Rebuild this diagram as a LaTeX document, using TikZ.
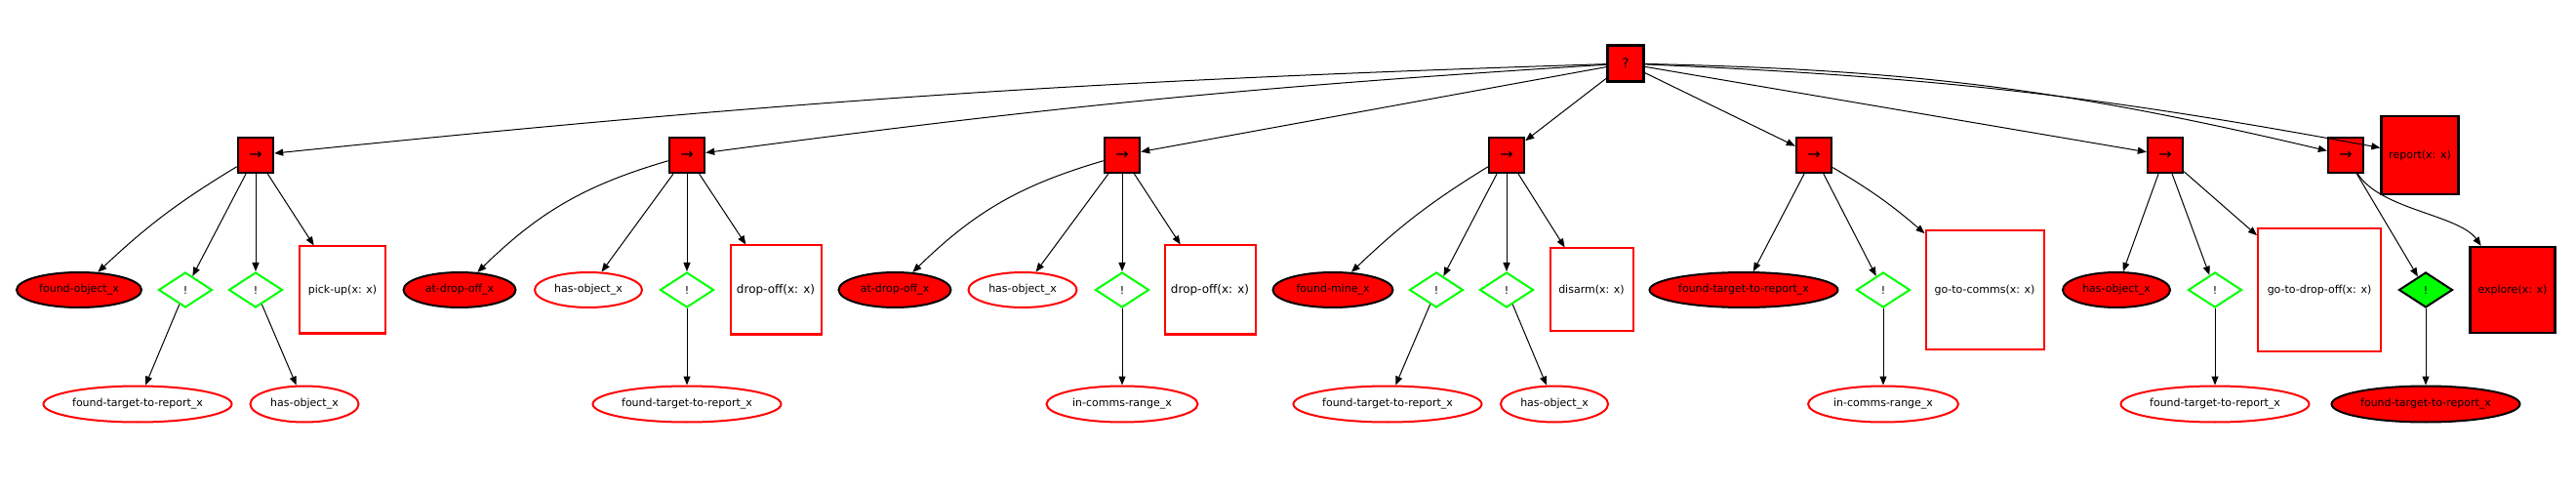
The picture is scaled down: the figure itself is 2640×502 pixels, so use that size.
\documentclass[tikz,border=0pt]{standalone}
\usepackage{fontspec}
\setmainfont{DejaVu Sans}
\usetikzlibrary{shapes.geometric,arrows.meta}

\tikzset{
  link/.style={line width=0.5pt,-{Triangle[length=4.5pt,width=3.5pt]}},
  seqbox/.style={draw=black,fill=red,line width=1.2pt,minimum size=18pt,inner sep=0pt,font=\fontsize{8}{9}\selectfont},
  condfill/.style={ellipse,draw=black,fill=red,line width=1pt,minimum height=18pt,inner sep=0pt},
  condline/.style={ellipse,draw=red,fill=white,line width=1pt,minimum height=18pt,inner sep=0pt},
  notline/.style={diamond,draw=green,line width=1pt,minimum width=27.5pt,minimum height=18pt,inner sep=0pt},
  notfill/.style={notline,draw=black,fill=green},
  actline/.style={draw=red,line width=1pt,inner sep=0pt},
  actfill/.style={draw=black,fill=red,line width=1.2pt,inner sep=0pt}
}

\begin{document}
\begin{tikzpicture}[x=0.5pt,y=0.5pt,font=\fontsize{5.5}{6.5}\selectfont]
  \useasboundingbox (0,0) rectangle (2640,-502);

  \node[seqbox,font=\fontsize{6.5}{7.5}\selectfont,minimum size=18.5pt] (root) at (1666,-65) {?};

  \node[seqbox] (s1) at (262,-159) {→};
  \node[seqbox] (s2) at (704,-159) {→};
  \node[seqbox] (s3) at (1150,-159) {→};
  \node[seqbox] (s4) at (1544,-159) {→};
  \node[seqbox] (s5) at (1859,-159) {→};
  \node[seqbox] (s6) at (2219,-159) {→};
  \node[seqbox] (s7) at (2404,-159) {→};
  \node[actfill,minimum width=39.5pt,minimum height=40pt] (report) at (2480,-159) {report(x: x)};

  \node[condfill,minimum width=64pt] (fo1) at (81,-297) {found-object\_x};
  \node[notline] (n1a) at (190,-297) {!};
  \node[notline] (n1b) at (262,-297) {!};
  \node[actline,minimum width=44pt,minimum height=44.5pt] (pickup) at (351,-297) {pick-up(x: x)};
  \node[condline,minimum width=96.5pt,minimum height=18.5pt] (ft1) at (141,-414) {found-target-to-report\_x};
  \node[condline,minimum width=55.5pt,minimum height=18.5pt] (ho1) at (312,-414) {has-object\_x};

  \node[condfill,minimum width=57.5pt] (adr2) at (471,-297) {at-drop-off\_x};
  \node[condline,minimum width=55pt] (ho2) at (603,-297) {has-object\_x};
  \node[notline] (n2) at (704,-297) {!};
  \node[actline,minimum width=46.5pt,minimum height=45.5pt,font=\fontsize{6}{7}\selectfont] (drop2) at (795,-297) {drop-off(x: x)};
  \node[condline,minimum width=96.5pt,minimum height=18.5pt] (ft2) at (704,-414) {found-target-to-report\_x};

  \node[condfill,minimum width=57.5pt] (adr3) at (917,-297) {at-drop-off\_x};
  \node[condline,minimum width=55.5pt] (ho3) at (1048,-297) {has-object\_x};
  \node[notline] (n3) at (1150,-297) {!};
  \node[actline,minimum width=46.5pt,minimum height=45.5pt,font=\fontsize{6}{7}\selectfont] (drop3) at (1240,-297) {drop-off(x: x)};
  \node[condline,minimum width=77.5pt,minimum height=18.5pt] (icr3) at (1150,-414) {in-comms-range\_x};

  \node[condfill,minimum width=61.5pt] (fm4) at (1366,-297) {found-mine\_x};
  \node[notline] (n4a) at (1472,-297) {!};
  \node[notline] (n4b) at (1544,-297) {!};
  \node[actline,minimum width=42.5pt,minimum height=42.5pt] (disarm) at (1631,-297) {disarm(x: x)};
  \node[condline,minimum width=96.5pt,minimum height=18.5pt] (ft4) at (1422,-414) {found-target-to-report\_x};
  \node[condline,minimum width=55pt,minimum height=18.5pt] (ho4) at (1593,-414) {has-object\_x};

  \node[condfill,minimum width=96.5pt] (ft5) at (1787,-297) {found-target-to-report\_x};
  \node[notline] (n5) at (1930,-297) {!};
  \node[actline,minimum width=60.5pt,minimum height=60.5pt] (gtc) at (2034,-297) {go-to-comms(x: x)};
  \node[condline,minimum width=77pt,minimum height=18.5pt] (icr5) at (1930,-414) {in-comms-range\_x};

  \node[condfill,minimum width=55pt] (ho6) at (2169,-297) {has-object\_x};
  \node[notline] (n6) at (2270,-297) {!};
  \node[actline,minimum width=63pt,minimum height=62.5pt] (gtd) at (2377,-297) {go-to-drop-off(x: x)};
  \node[condline,minimum width=96.5pt,minimum height=18.5pt] (ft6) at (2270,-414) {found-target-to-report\_x};

  \node[notfill] (n7) at (2486,-297) {!};
  \node[actfill,minimum width=43.5pt,minimum height=44pt] (explore) at (2575,-297) {explore(x: x)};
  \node[condfill,minimum width=96.5pt,minimum height=18.5pt] (ft7) at (2486,-414) {found-target-to-report\_x};

  \draw[link] (root) to[bend right=2] (s1);
  \draw[link] (root) to[bend right=2] (s2);
  \draw[link] (root) -- (s3);
  \draw[link] (root) -- (s4);
  \draw[link] (root) -- (s5);
  \draw[link] (root) -- (s6);
  \draw[link] (root) to[bend left=6] (s7);
  \draw[link] (root) to[bend left=4] (report);

  \draw[link] (s1) to[bend right=6] (fo1);
  \draw[link] (s1) -- (n1a);
  \draw[link] (s1) -- (n1b);
  \draw[link] (s1) -- (pickup);
  \draw[link] (n1a) -- (ft1);
  \draw[link] (n1b) -- (ho1);

  \draw[link] (s2) to[bend right=14] (adr2);
  \draw[link] (s2) -- (ho2);
  \draw[link] (s2) -- (n2);
  \draw[link] (s2) -- (drop2);
  \draw[link] (n2) -- (ft2);

  \draw[link] (s3) to[bend right=14] (adr3);
  \draw[link] (s3) -- (ho3);
  \draw[link] (s3) -- (n3);
  \draw[link] (s3) -- (drop3);
  \draw[link] (n3) -- (icr3);

  \draw[link] (s4) to[bend right=6] (fm4);
  \draw[link] (s4) -- (n4a);
  \draw[link] (s4) -- (n4b);
  \draw[link] (s4) -- (disarm);
  \draw[link] (n4a) -- (ft4);
  \draw[link] (n4b) -- (ho4);

  \draw[link] (s5) -- (ft5);
  \draw[link] (s5) -- (n5);
  \draw[link] (s5) to[bend left=5] (gtc);
  \draw[link] (n5) -- (icr5);

  \draw[link] (s6) -- (ho6);
  \draw[link] (s6) -- (n6);
  \draw[link] (s6) -- (gtd);
  \draw[link] (n6) -- (ft6);

  \draw[link] (s7) -- (n7);
  \draw[link] (s7) .. controls (2440,-215) and (2520,-220) .. (explore);
  \draw[link] (n7) -- (ft7);
\end{tikzpicture}
\end{document}
